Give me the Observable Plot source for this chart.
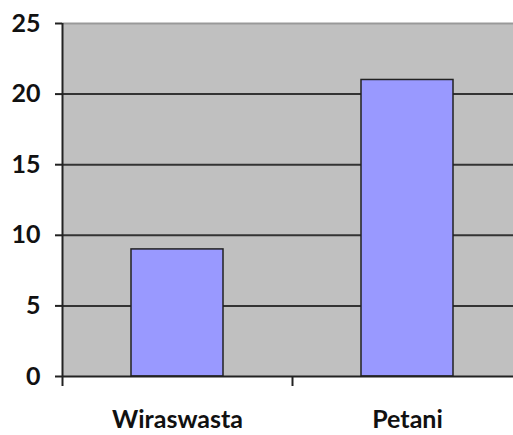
<!DOCTYPE html>
<html>
<head>
<meta charset="utf-8">
<script src="https://cdn.jsdelivr.net/npm/d3@7"></script>
<script src="https://cdn.jsdelivr.net/npm/@observablehq/plot@0.6"></script>
<style>
  html, body { margin: 0; padding: 0; background: #fff; }
  #chart svg { display: block; overflow: visible; }
</style>
</head>
<body>
<div id="chart"></div>
<script>
const categories = ["Wiraswasta", "Petani"];
const values = [9, 21];
const yTicks = [0, 5, 10, 15, 20, 25];
const gridValues = [5, 10, 15, 20];

const data = categories.map((c, i) => ({cat: c, i, value: values[i]}));

const font = "Lato, 'Open Sans', sans-serif";

const chart = Plot.plot({
  width: 513,
  height: 435,
  marginLeft: 62,
  marginRight: -9,
  marginTop: 23,
  marginBottom: 59,
  style: {fontFamily: font, background: "#fff", overflow: "visible"},
  x: {type: "linear", domain: [0, categories.length], axis: null},
  y: {domain: [0, 25], axis: null},
  marks: [
    Plot.frame({fill: "#c0c0c0", stroke: null}),
    Plot.ruleY([25], {stroke: "#999", strokeWidth: 2}),
    Plot.ruleY(gridValues, {stroke: "#333", strokeWidth: 2}),
    Plot.rectY(data, {
      x1: d => d.i + 0.3,
      x2: d => d.i + 0.7,
      y1: 0,
      y2: "value",
      fill: "#9999ff",
      stroke: "#222",
      strokeWidth: 1.5
    }),
    Plot.ruleY([0], {stroke: "#222", strokeWidth: 2}),
    Plot.ruleX([0], {stroke: "#222", strokeWidth: 2}),
    Plot.axisY({
      ticks: yTicks,
      tickSize: 7,
      tickPadding: 15,
      tickFormat: d => String(d),
      label: null,
      fontSize: 25,
      fontWeight: "bold",
      stroke: "#222",
      strokeWidth: 2,
      fill: "#111"
    }),
    Plot.axisX({
      ticks: d3.range(categories.length + 1),
      tickSize: 10,
      tickFormat: () => "",
      label: null,
      stroke: "#222",
      strokeWidth: 2
    }),
    Plot.axisX({
      ticks: categories.map((c, i) => i + 0.5),
      tickSize: 0,
      tickPadding: 34,
      tickFormat: d => categories[Math.floor(d)],
      label: null,
      fontSize: 25,
      fontWeight: "bold",
      fill: "#111"
    })
  ]
});

document.getElementById("chart").appendChild(chart);
</script>
</body>
</html>
